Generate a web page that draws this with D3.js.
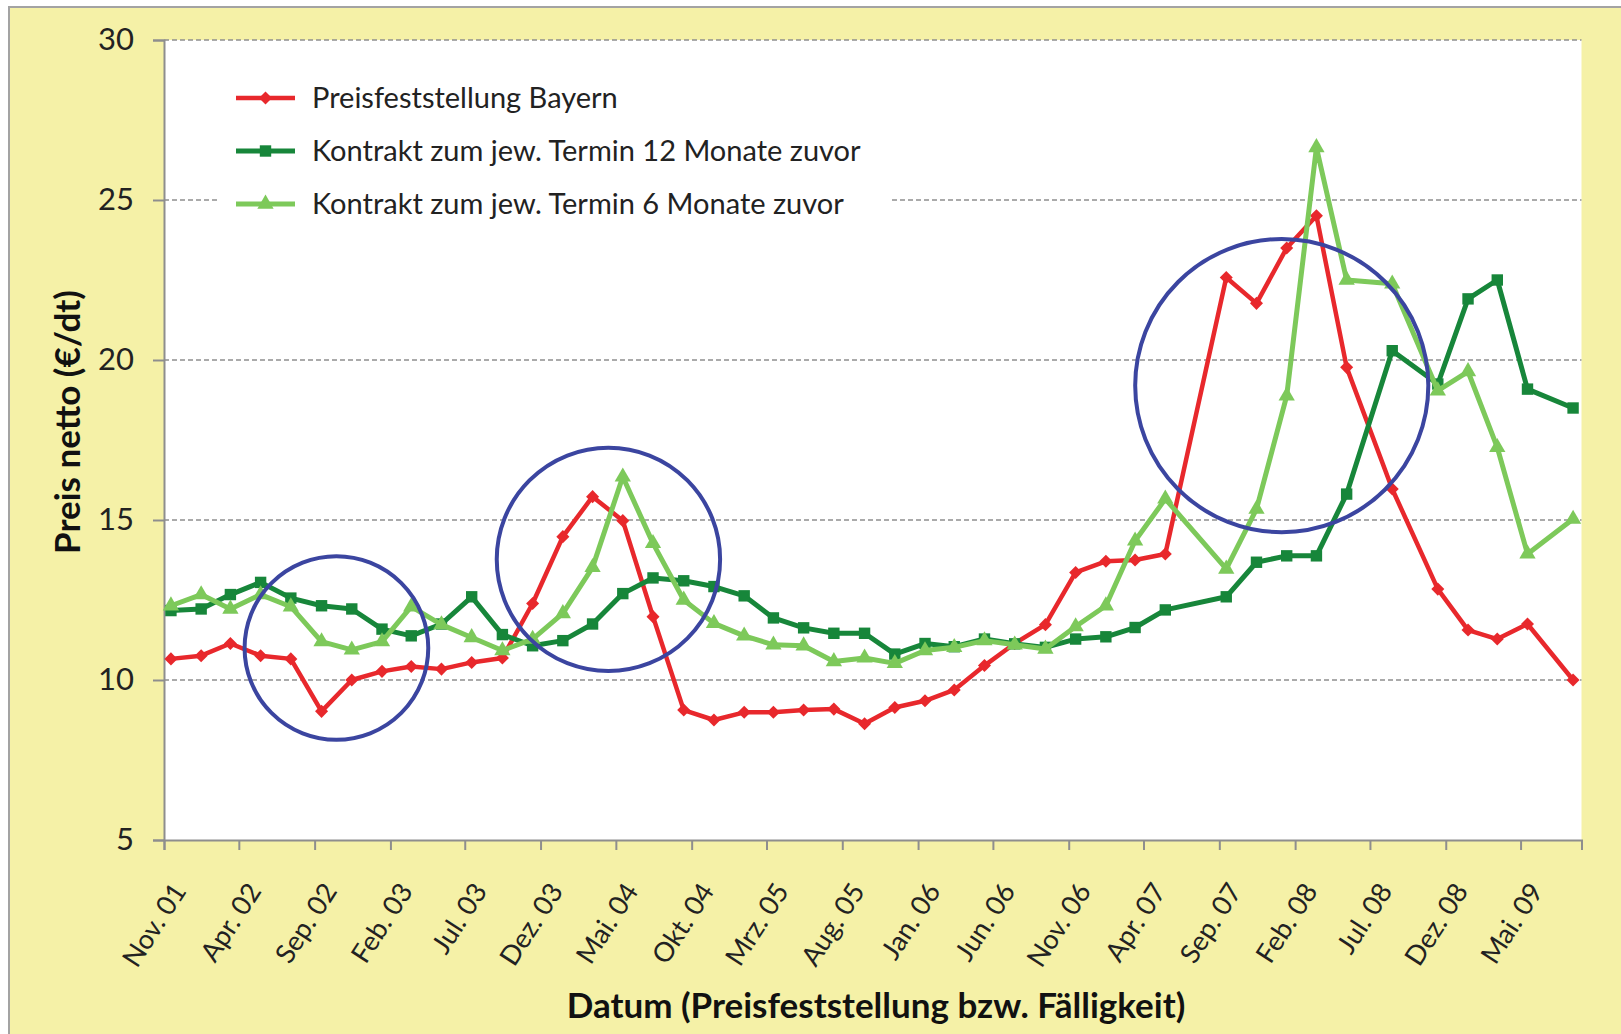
<!DOCTYPE html>
<html>
<head>
<meta charset="utf-8">
<script src="https://cdn.jsdelivr.net/npm/d3@7"></script>
<style>
  body { margin: 0; background: #ffffff; }
  text { font-family: Lato, "Open Sans", sans-serif; }
</style>
</head>
<body>
<script>
// ---- data ----
// one point every second month, mid-month; Jul 07 has no value
const dates = [
  "2001-11","2002-01","2002-03","2002-05","2002-07","2002-09","2002-11",
  "2003-01","2003-03","2003-05","2003-07","2003-09","2003-11",
  "2004-01","2004-03","2004-05","2004-07","2004-09","2004-11",
  "2005-01","2005-03","2005-05","2005-07","2005-09","2005-11",
  "2006-01","2006-03","2006-05","2006-07","2006-09","2006-11",
  "2007-01","2007-03","2007-05","2007-09","2007-11",
  "2008-01","2008-03","2008-05","2008-08","2008-11",
  "2009-01","2009-03","2009-05","2009-08"
];
const preisBayern = [
  10.66, 10.76, 11.14, 10.76, 10.66, 9.02, 10.0,
  10.27, 10.42, 10.34, 10.55, 10.69, 12.39,
  14.48, 15.73, 14.98, 11.98, 9.06, 8.75,
  8.99, 8.99, 9.06, 9.09, 8.63, 9.14,
  9.35, 9.69, 10.45, 11.14, 11.73, 13.36,
  13.71, 13.75, 13.94, 22.58, 21.77,
  23.5, 24.51, 19.77, 15.97, 12.84,
  11.56, 11.28, 11.75, 10.0
];
const kontrakt12 = [
  12.17, 12.22, 12.67, 13.05, 12.56, 12.32, 12.22,
  11.59, 11.38, 11.75, 12.6, 11.42, 11.07,
  11.23, 11.75, 12.7, 13.19, 13.1, 12.92,
  12.63, 11.94, 11.63, 11.46, 11.46, 10.81,
  11.14, 11.04, 11.28, 11.13, 11.02, 11.28,
  11.35, 11.64, 12.19, 12.6, 13.68,
  13.88, 13.88, 15.81, 20.29, 19.25,
  21.91, 22.5, 19.09, 18.5
];
const kontrakt6 = [
  12.32, 12.67, 12.22, 12.67, 12.29, 11.2, 10.94,
  11.2, 12.29, 11.73, 11.33, 10.92, 11.28,
  12.08, 13.52, 16.35, 14.27, 12.5, 11.77,
  11.38, 11.1, 11.07, 10.58, 10.69, 10.52,
  10.92, 11.02, 11.23, 11.1, 10.97, 11.67,
  12.32, 14.35, 15.66, 13.47, 15.34,
  18.88, 26.64, 22.5, 22.38, 19.04,
  19.64, 17.27, 13.94, 15.03
];
const seriesNames = [
  "Preisfeststellung Bayern",
  "Kontrakt zum jew. Termin 12 Monate zuvor",
  "Kontrakt zum jew. Termin 6 Monate zuvor"
];
const yTicks = [5, 10, 15, 20, 25, 30];
const xTickMonths = [
  "2001-11","2002-04","2002-09","2003-02","2003-07","2003-12","2004-05",
  "2004-10","2005-03","2005-08","2006-01","2006-06","2006-11","2007-04",
  "2007-09","2008-02","2008-07","2008-12","2009-05"
];
const xTickLabels = [
  "Nov. 01","Apr. 02","Sep. 02","Feb. 03","Jul. 03","Dez. 03","Mai. 04",
  "Okt. 04","Mrz. 05","Aug. 05","Jan. 06","Jun. 06","Nov. 06","Apr. 07",
  "Sep. 07","Feb. 08","Jul. 08","Dez. 08","Mai. 09"
];
// hand drawn circles: centre date, centre value, radius in value units
const circleDates = ["2002-10-15", "2004-04-16", "2008-01-05"];
const circleValues = [11.0, 13.77, 19.2];
const circleRadii = [2.87, 3.49, 4.58];

// ---- setup ----
const width = 1621;
const height = 1034;
const margin = {top: 40, right: 39.5, bottom: 194, left: 164};

const parseMonth = d3.timeParse("%Y-%m");
const parseDay = d3.timeParse("%Y-%m-%d");
const midMonth = s => parseDay(s + "-15");

let svg = d3.select("body").append("svg")
  .attr("width", width)
  .attr("height", height);

// yellow chart area with grey frame
svg.append("rect")
  .attr("x", 9).attr("y", 7)
  .attr("width", width + 20).attr("height", height + 20)
  .style("fill", "#f5f1a7")
  .style("stroke", "#a3a3a3")
  .style("stroke-width", 2);

const x = d3.scaleTime()
  .domain([parseMonth("2001-11"), parseMonth("2009-09")])
  .range([margin.left, width - margin.right]);
const y = d3.scaleLinear()
  .domain([5, 30])
  .range([height - margin.bottom, margin.top]);

// white plot area
svg.append("rect")
  .attr("x", margin.left).attr("y", margin.top)
  .attr("width", width - margin.right - margin.left)
  .attr("height", height - margin.bottom - margin.top)
  .style("fill", "#ffffff");

// gridlines
svg.append("g").selectAll("line")
  .data(yTicks.filter(t => t > 5))
  .enter().append("line")
    .attr("x1", margin.left).attr("x2", width - margin.right)
    .attr("y1", d => y(d)).attr("y2", d => y(d))
    .style("stroke", "#8e8e8e")
    .style("stroke-width", 1.5)
    .style("stroke-dasharray", "5,3");

// legend box (white, hides the gridline behind it)
let legend = svg.append("g");
legend.append("rect")
  .attr("x", 217).attr("y", 62)
  .attr("width", 674).attr("height", 166)
  .style("fill", "#ffffff");

// axes
const yAxis = d3.axisLeft(y).tickValues(yTicks).tickSize(11).tickPadding(19);
let gy = svg.append("g")
  .attr("transform", "translate(" + margin.left + ",0)")
  .call(yAxis);
gy.selectAll("text")
  .style("font-size", "31px")
  .style("fill", "#222");

const xAxis = d3.axisBottom(x)
  .tickValues(xTickMonths.map(parseMonth))
  .tickSize(10)
  .tickFormat((d, i) => xTickLabels[i]);
let gx = svg.append("g")
  .attr("transform", "translate(0," + (height - margin.bottom) + ")")
  .call(xAxis);
gx.selectAll("text")
  .style("font-size", "27px")
  .style("fill", "#222")
  .attr("text-anchor", "end")
  .attr("dx", 0).attr("dy", 0)
  .attr("transform", "translate(12,44) rotate(-57)");

[gx, gy].forEach(g => {
  g.select(".domain").style("stroke", "#8e8e8e").style("stroke-width", 2);
  g.selectAll(".tick line").style("stroke", "#8e8e8e").style("stroke-width", 2);
});

// axis titles
svg.append("text")
  .attr("transform", "translate(80,422) rotate(-90)")
  .attr("text-anchor", "middle")
  .style("font-size", "35px")
  .style("font-weight", "bold")
  .style("fill", "#111")
  .text("Preis netto (€/dt)");

svg.append("text")
  .attr("x", 876)
  .attr("y", 1018)
  .attr("text-anchor", "middle")
  .style("font-size", "35px")
  .style("font-weight", "bold")
  .style("fill", "#111")
  .text("Datum (Preisfeststellung bzw. Fälligkeit)");

// ---- series ----
const series = [
  {name: seriesNames[0], values: preisBayern, color: "#e8282c", width: 4.5, symbol: d3.symbolSquare, size: 85, rotate: 45},
  {name: seriesNames[1], values: kontrakt12, color: "#17863a", width: 5, symbol: d3.symbolSquare, size: 130, rotate: 0},
  {name: seriesNames[2], values: kontrakt6, color: "#7dc95a", width: 5, symbol: d3.symbolTriangle, size: 115, rotate: 0}
];

let line = d3.line()
  .x(d => x(d.date))
  .y(d => y(d.value));

series.forEach(function(s) {
  let pts = dates.map((dt, i) => ({date: midMonth(dt), value: s.values[i]}));
  let g = svg.append("g");
  g.append("path")
    .datum(pts)
    .attr("d", line)
    .style("fill", "none")
    .style("stroke", s.color)
    .style("stroke-width", s.width)
    .style("stroke-linejoin", "round");
  g.selectAll("path.marker")
    .data(pts)
    .enter().append("path")
      .attr("class", "marker")
      .attr("d", d3.symbol().type(s.symbol).size(s.size))
      .attr("transform", d => "translate(" + x(d.date) + "," + y(d.value) + ") rotate(" + s.rotate + ")")
      .style("fill", s.color);
});

// legend entries
series.forEach(function(s, i) {
  let ly = 98 + i * 53;
  let item = legend.append("g");
  item.append("line")
    .attr("x1", 236).attr("x2", 295)
    .attr("y1", ly).attr("y2", ly)
    .style("stroke", s.color)
    .style("stroke-width", s.width);
  item.append("path")
    .attr("d", d3.symbol().type(s.symbol).size(s.size))
    .attr("transform", "translate(265.5," + ly + ") rotate(" + s.rotate + ")")
    .style("fill", s.color);
  item.append("text")
    .attr("x", 312).attr("y", ly)
    .attr("dy", "0.35em")
    .style("font-size", "29px")
    .style("fill", "#222")
    .text(s.name);
});

// annotation circles
svg.append("g").selectAll("circle")
  .data(circleDates.map((d, i) => ({date: parseDay(d), value: circleValues[i], r: circleRadii[i]})))
  .enter().append("circle")
    .attr("cx", d => x(d.date))
    .attr("cy", d => y(d.value))
    .attr("r", d => y(0) - y(d.r))
    .style("fill", "none")
    .style("stroke", "#3b45a0")
    .style("stroke-width", 4);
</script>
</body>
</html>
